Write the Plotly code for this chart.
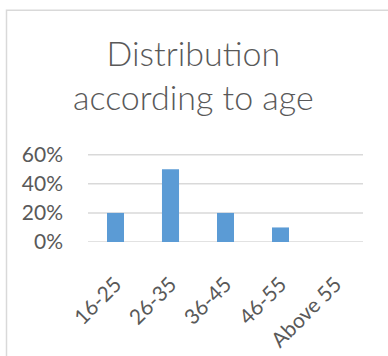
import plotly.graph_objects as go

# Age distribution data
age_groups = ["16-25", "26-35", "36-45", "46-55", "Above 55"]
shares = [0.20, 0.50, 0.20, 0.10, 0.0]
y_ticks = [0, 0.2, 0.4, 0.6]
y_tick_labels = ["0%", "20%", "40%", "60%"]
y_max = 0.605

W, H = 388, 356
L, R, B = 88, 25, 114.3
zero_py = H - B
top_py = 154.3  # pixel row of the 60% gridline
plot_h = (zero_py - top_py) * y_max / 0.6
T = zero_py - plot_h
plot_w = W - L - R


def px_x(px):
    return (px - L) / plot_w


def px_y(py):
    return (zero_py - py) / plot_h


TEXT = "#595959"
GRID = "#d9d9d9"
FONT = "Lato"

fig = go.Figure(
    go.Bar(
        x=age_groups,
        y=shares,
        marker=dict(color="#5b9bd5", line=dict(width=0)),
        hoverinfo="x+y",
    )
)

fig.update_layout(
    width=W,
    height=H,
    margin=dict(l=L, r=R, t=T, b=B, pad=0, autoexpand=False),
    paper_bgcolor="white",
    plot_bgcolor="white",
    bargap=0.69,
    showlegend=False,
    font=dict(family=FONT, color=TEXT),
)

fig.update_yaxes(
    range=[0, y_max],
    tickvals=y_ticks,
    ticktext=y_tick_labels,
    showgrid=False,
    zeroline=False,
    showline=False,
    ticks="",
    ticklen=0,
    ticklabelstandoff=24,
    tickfont=dict(family=FONT, size=21, color=TEXT),
    automargin=False,
    fixedrange=True,
)

fig.update_xaxes(
    tickangle=-45,
    showgrid=False,
    zeroline=False,
    showline=False,
    ticks="",
    ticklabelstandoff=25,
    tickfont=dict(family=FONT, size=21, color=TEXT),
    automargin=False,
    fixedrange=True,
)

# Horizontal gridlines at each y tick, drawn beneath the bars
for v in y_ticks:
    fig.add_shape(
        type="line",
        xref="paper",
        yref="y",
        x0=0,
        x1=1,
        y0=v,
        y1=v,
        line=dict(color=GRID, width=1.5),
        layer="below",
    )

# Chart title on two lines
fig.add_annotation(
    text="Distribution<br>according to age",
    xref="paper",
    yref="paper",
    x=px_x(193),
    y=px_y(29),
    xanchor="center",
    yanchor="top",
    align="center",
    showarrow=False,
    font=dict(family=FONT, size=34, color=TEXT, weight=300),
)

# Outer chart border
fig.add_shape(
    type="rect",
    xref="paper",
    yref="paper",
    x0=px_x(6.5),
    x1=px_x(420),
    y0=px_y(400),
    y1=px_y(9.5),
    line=dict(color=GRID, width=1.5),
    fillcolor="rgba(0,0,0,0)",
    layer="below",
)

fig.write_html("out.html")
